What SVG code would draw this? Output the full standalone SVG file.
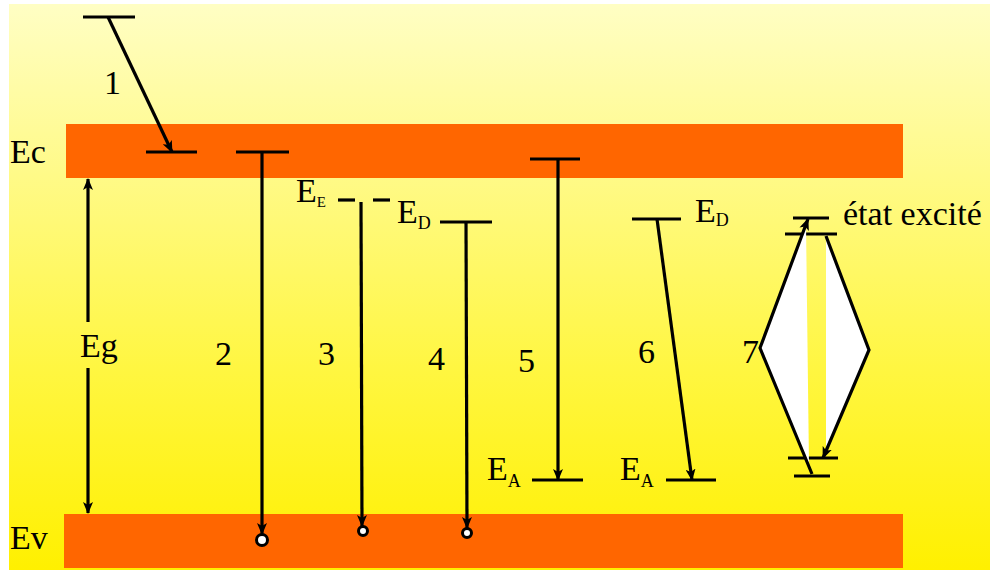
<svg xmlns="http://www.w3.org/2000/svg" width="990" height="573" viewBox="0 0 990 573">
<defs>
<linearGradient id="bg" x1="0" y1="0" x2="0" y2="1">
<stop offset="0" stop-color="#FFFEC4"/>
<stop offset="0.3" stop-color="#FFFA88"/>
<stop offset="0.65" stop-color="#FFF640"/>
<stop offset="1" stop-color="#FFF000"/>
</linearGradient>
<marker id="ah" viewBox="0 0 12 10" refX="11" refY="5" markerWidth="12" markerHeight="10" markerUnits="userSpaceOnUse" orient="auto">
<path d="M0,0 L12,5 L0,10 L3,5 Z" fill="#000"/>
</marker>
<style>
.ln{stroke:#000;stroke-width:3.2;fill:none}
.ar{stroke:#000;stroke-width:3.2;fill:none;marker-end:url(#ah)}
.band{fill:#FF6600}
.t{font-size:34px;fill:#000}
.s{font-size:18px}
.hole{fill:#fff;stroke:#000;stroke-width:3}
.wf{fill:#fff;stroke:none}
</style>
</defs>
<rect x="0" y="0" width="990" height="573" fill="#fff"/>
<rect x="9" y="4" width="981" height="566" fill="url(#bg)"/>
<g id="bands" font-family="'Liberation Serif', 'Times New Roman', serif">
<rect class="band" x="66" y="124" width="837" height="54"/>
<rect class="band" x="64" y="514" width="839" height="54"/>
<text class="t" x="10" y="163">Ec</text>
<text class="t" x="10" y="549">Ev</text>
</g>
<g id="gap" font-family="'Liberation Serif', 'Times New Roman', serif">
<text class="t" x="80" y="357">Eg</text>
</g>
<g id="levels">
<line class="ln" x1="83" y1="17" x2="135" y2="17"/>
<line class="ln" x1="146" y1="152" x2="197" y2="152"/>
<line class="ln" x1="236" y1="152" x2="289" y2="152"/>
<line class="ln" x1="338" y1="200" x2="355" y2="200"/>
<line class="ln" x1="373" y1="200" x2="390" y2="200"/>
<line class="ln" x1="440" y1="222" x2="492" y2="222"/>
<line class="ln" x1="530" y1="159" x2="580" y2="159"/>
<line class="ln" x1="532" y1="480" x2="583" y2="480"/>
<line class="ln" x1="632" y1="219" x2="681" y2="219"/>
<line class="ln" x1="666" y1="480" x2="716" y2="480"/>
<line class="ln" x1="793" y1="218" x2="829" y2="218"/>
<line class="ln" x1="785" y1="234" x2="837" y2="234"/>
<line class="ln" x1="788" y1="458" x2="838" y2="458"/>
<line class="ln" x1="794" y1="476" x2="830" y2="476"/>
</g>
<g id="labels" font-family="'Liberation Serif', 'Times New Roman', serif">
<text class="t" x="104" y="94">1</text>
<text class="t" x="215" y="365">2</text>
<text class="t" x="318" y="365">3</text>
<text class="t" x="428" y="370">4</text>
<text class="t" x="518" y="372">5</text>
<text class="t" x="638" y="363">6</text>
<text class="t" x="742" y="363">7</text>
<text class="t" x="296" y="202">E<tspan class="s" style="font-size:15px" dy="5">E</tspan></text>
<text class="t" x="397" y="223">E<tspan class="s" dy="6">D</tspan></text>
<text class="t" x="487" y="480">E<tspan class="s" dy="7">A</tspan></text>
<text class="t" x="620" y="480">E<tspan class="s" dy="7">A</tspan></text>
<text class="t" x="695" y="222">E<tspan class="s" dy="4">D</tspan></text>
<text class="t" x="843" y="225">état excité</text>
</g>
<g id="exciton">
<polygon class="wf" points="806,224 761,348 809,466"/>
<polygon class="wf" points="826,238 868,350 826,452"/>
</g>
<g id="connectors">
<line class="ar" x1="108" y1="17" x2="172" y2="152"/>
<line class="ar" x1="88" y1="322" x2="88" y2="179"/>
<line class="ar" x1="88" y1="368" x2="88" y2="513"/>
<line class="ar" x1="262" y1="152" x2="262" y2="534"/>
<line class="ar" x1="361" y1="202" x2="362" y2="526"/>
<line class="ar" x1="466" y1="222" x2="467" y2="528"/>
<line class="ar" x1="558" y1="159" x2="558" y2="480"/>
<line class="ar" x1="657" y1="219" x2="692" y2="480"/>
<polyline class="ar" points="812,474 760,348 808,219"/>
<polyline class="ar" points="826,236 869,350 823,458"/>
<circle class="hole" cx="262" cy="540" r="5.5"/>
<circle class="hole" cx="363" cy="531" r="4.5"/>
<circle class="hole" cx="467" cy="533" r="4.5"/>
</g>
</svg>
